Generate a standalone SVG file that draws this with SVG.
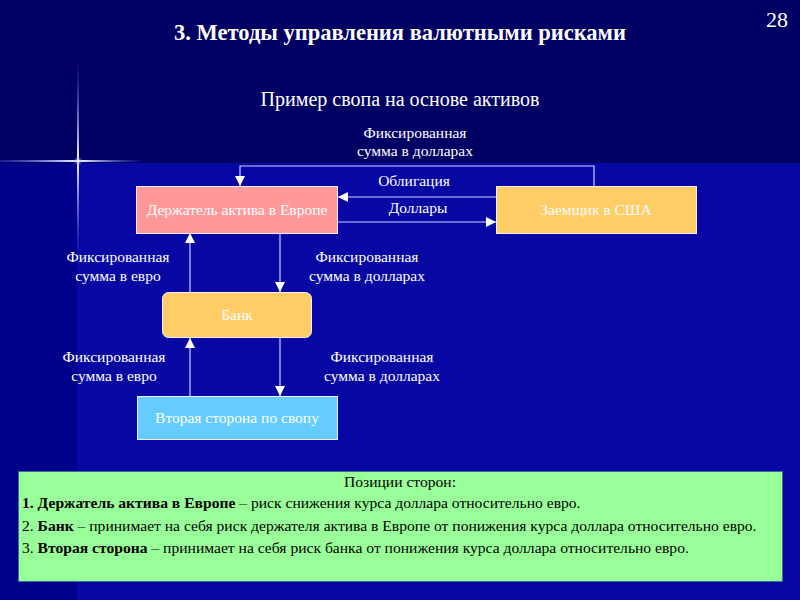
<svg xmlns="http://www.w3.org/2000/svg" width="800" height="600" viewBox="0 0 800 600">
  <defs>
    <style>
      .t { font-family: 'Liberation Serif', 'DejaVu Serif', serif; fill: #ffffff; }
      .lbl { font-size: 15.5px; text-anchor: middle; }
      .nd { font-size: 15.5px; text-anchor: middle; }
      .box { stroke: #f0f0ff; stroke-width: 1; }
      .conn { stroke: #d0d0ff; stroke-width: 1.2; fill: none; }
      .blk { font-family: 'Liberation Serif', 'DejaVu Serif', serif; fill: #000000; font-size: 15.6px; }
    </style>
    <marker id="arr" viewBox="0 0 10 10" refX="10" refY="5" markerWidth="10" markerHeight="10" markerUnits="userSpaceOnUse" orient="auto">
      <path d="M0,0 L10,5 L0,10 Z" fill="#ffffff"/>
    </marker>
    <linearGradient id="vline" x1="0" y1="0" x2="0" y2="1">
      <stop offset="0" stop-color="#4a6cff" stop-opacity="0"/>
      <stop offset="0.5" stop-color="#ffffff" stop-opacity="1"/>
      <stop offset="1" stop-color="#4a6cff" stop-opacity="0"/>
    </linearGradient>
    <linearGradient id="hline" x1="0" y1="0" x2="1" y2="0">
      <stop offset="0" stop-color="#4a6cff" stop-opacity="0.3"/>
      <stop offset="0.55" stop-color="#ffffff" stop-opacity="1"/>
      <stop offset="1" stop-color="#4a6cff" stop-opacity="0"/>
    </linearGradient>
    <radialGradient id="glow">
      <stop offset="0" stop-color="#ffffff" stop-opacity="0.9"/>
      <stop offset="1" stop-color="#3355ff" stop-opacity="0"/>
    </radialGradient>
  </defs>

  <!-- background -->
  <rect x="0" y="0" width="800" height="600" fill="#0707a4"/>
  <rect x="0" y="163" width="77" height="437" fill="#00008a"/>
  <rect x="0" y="0" width="800" height="163" fill="#000064"/>
  <!-- starburst -->
  <rect x="77" y="60" width="2" height="200" fill="url(#vline)"/>
  <rect x="0" y="160" width="145" height="2" fill="url(#hline)"/>
  <circle cx="78" cy="161" r="5" fill="url(#glow)"/>

  <!-- titles -->
  <text class="t" x="400" y="40" font-size="22.5" font-weight="bold" text-anchor="middle">3. Методы управления валютными рисками</text>
  <text class="t" x="777" y="27" font-size="22" text-anchor="middle">28</text>
  <text class="t" x="400" y="106" font-size="20" text-anchor="middle">Пример свопа на основе активов</text>

  <!-- connectors -->
  <g id="connectors">
    <polyline class="conn" points="594,186 594,166 240,166 240,186" marker-end="url(#arr)"/>
    <line class="conn" x1="496" y1="197" x2="338" y2="197" marker-end="url(#arr)"/>
    <line class="conn" x1="338" y1="222" x2="496" y2="222" marker-end="url(#arr)"/>
    <line class="conn" x1="190" y1="292" x2="190" y2="233" marker-end="url(#arr)"/>
    <line class="conn" x1="280" y1="233" x2="280" y2="292" marker-end="url(#arr)"/>
    <line class="conn" x1="190" y1="396" x2="190" y2="338" marker-end="url(#arr)"/>
    <line class="conn" x1="280" y1="338" x2="280" y2="396" marker-end="url(#arr)"/>
    <text class="t lbl" x="415" y="138">Фиксированная</text>
    <text class="t lbl" x="415" y="156">сумма в долларах</text>
    <text class="t lbl" x="414" y="186">Облигация</text>
    <text class="t lbl" x="418" y="213">Доллары</text>
    <text class="t lbl" x="118" y="262">Фиксированная</text>
    <text class="t lbl" x="118" y="281">сумма в евро</text>
    <text class="t lbl" x="367" y="262">Фиксированная</text>
    <text class="t lbl" x="367" y="281">сумма в долларах</text>
    <text class="t lbl" x="114" y="362">Фиксированная</text>
    <text class="t lbl" x="114" y="381">сумма в евро</text>
    <text class="t lbl" x="382" y="362">Фиксированная</text>
    <text class="t lbl" x="382" y="381">сумма в долларах</text>
  </g>

  <!-- nodes -->
  <g id="holder">
    <rect class="box" x="136.5" y="186.5" width="201" height="47" fill="#ff9999"/>
    <text class="t nd" x="237" y="215">Держатель актива в Европе</text>
  </g>
  <g id="borrower">
    <rect class="box" x="496.5" y="186.5" width="200" height="47" fill="#ffcc66"/>
    <text class="t nd" x="596" y="215">Заемщик в США</text>
  </g>
  <g id="bank">
    <rect class="box" x="162.5" y="292.5" width="149" height="45" rx="6" fill="#ffcc66"/>
    <text class="t nd" x="237" y="320">Банк</text>
  </g>
  <g id="counterparty">
    <rect class="box" x="137.5" y="396.5" width="200" height="43" fill="#66ccff"/>
    <text class="t nd" x="237" y="423">Вторая сторона по свопу</text>
  </g>

  <!-- positions box -->
  <g id="positions">
    <rect x="18.5" y="471.5" width="764" height="110" fill="#99ff99" stroke="#3a6a9a" stroke-width="1"/>
    <text class="blk" x="400" y="487" text-anchor="middle">Позиции сторон:</text>
    <text class="blk" x="22" y="508"><tspan font-weight="bold">1. Держатель актива в Европе</tspan> – риск снижения курса доллара относительно евро.</text>
    <text class="blk" x="22" y="531">2. <tspan font-weight="bold">Банк</tspan> – принимает на себя риск держателя актива в Европе от понижения курса доллара относительно евро.</text>
    <text class="blk" x="22" y="553">3. <tspan font-weight="bold">Вторая сторона</tspan> – принимает на себя риск банка от понижения курса доллара относительно евро.</text>
  </g>
</svg>
